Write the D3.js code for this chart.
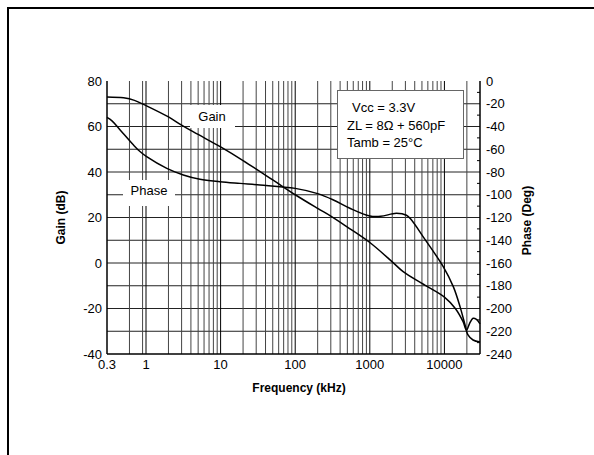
<!DOCTYPE html>
<html lang="en">
<head>
<meta charset="UTF-8">
<title>Gain / Phase vs Frequency</title>
<script src="https://cdn.jsdelivr.net/npm/d3@7"></script>
<style>
  body { margin: 0; background: #fff; }
  text { font-family: "Liberation Sans", Arial, sans-serif; }
</style>
</head>
<body>
<script>
// frequency (kHz) and gain (dB)
var gainFreq = [0.3, 0.5, 0.7, 1, 2, 3, 5, 10, 20, 50, 100, 200, 300, 500, 1000, 2000, 2800, 5000, 10000, 14000, 17800, 19800, 21800, 24200, 26900, 30000];
var gainDb   = [73, 72.6, 71.5, 69.2, 64.2, 60.6, 56.5, 51, 45, 36.5, 30, 24, 20.6, 15.8, 9, 0.5, -3.8, -9, -15, -20, -25.8, -29.5, -26.5, -24.3, -24.8, -26.8];

// frequency (kHz) and phase (deg)
var phaseFreq = [0.3, 0.35, 0.45, 0.68, 0.83, 1.02, 1.9, 3.16, 5.3, 9.8, 18.2, 33.7, 100, 200, 325, 540, 1000, 1400, 2270, 3100, 3600, 5200, 9600, 13200, 16300, 19000, 20600, 24200, 30000];
var phaseDeg  = [-32, -35, -43, -56.3, -62, -66.5, -76.8, -82.6, -86.4, -88.5, -90, -91.4, -94.4, -99, -104.6, -111.9, -118.7, -119, -116.3, -118, -122, -137, -163, -181, -199, -215, -223, -227.7, -229.5];

// tick labels
var freqTicks  = [0.3, 1, 10, 100, 1000, 10000];
var gainTicks  = [80, 60, 40, 20, 0, -20, -40];
var phaseTicks = [0, -20, -40, -60, -80, -100, -120, -140, -160, -180, -200, -220, -240];

var W = 594, H = 455;
var pad = {left: 107, top: 81, right: 114, bottom: 101};
var pw = W - pad.left - pad.right, ph = H - pad.top - pad.bottom;

var svg = d3.select("body").append("svg").attr("width", W).attr("height", H);
svg.append("rect").attr("width", W).attr("height", H).attr("fill", "#fff");

// outer frame (only left and top edges are in view)
svg.append("path").attr("d", "M8," + H + "V8H" + W).attr("fill", "none").attr("stroke", "#000").attr("stroke-width", 2);

var x = d3.scaleLog().domain([0.3, 30000]).range([pad.left, pad.left + pw]);
var yG = d3.scaleLinear().domain([-40, 80]).range([pad.top + ph, pad.top]);
var yP = d3.scaleLinear().domain([-240, 0]).range([pad.top + ph, pad.top]);

// grid
var hGrid = d3.range(-30, 80, 10);
svg.append("g").selectAll("line").data(hGrid).enter().append("line")
    .attr("x1", pad.left).attr("x2", pad.left + pw)
    .attr("y1", function (d) { return yG(d); }).attr("y2", function (d) { return yG(d); })
    .attr("stroke", "#222").attr("stroke-width", 1);

var vGrid = [0.6, 0.9];
for (var k = 0; k <= 4; k++) {
    for (var m = 1; m <= 9; m++) {
        var v = m * Math.pow(10, k);
        if (v < 30000) vGrid.push(v);
    }
}
svg.append("g").selectAll("line").data(vGrid).enter().append("line")
    .attr("x1", function (d) { return x(d); }).attr("x2", function (d) { return x(d); })
    .attr("y1", pad.top).attr("y2", pad.top + ph)
    .attr("stroke", function (d) { return freqTicks.indexOf(d) >= 0 ? "#000" : "#444"; })
    .attr("stroke-width", 1);

// white label boxes on the grid
svg.append("rect").attr("x", 190).attr("y", 105).attr("width", 45).attr("height", 23).attr("fill", "#fff");
svg.append("rect").attr("x", 123).attr("y", 180).attr("width", 52).attr("height", 26).attr("fill", "#fff");
svg.append("text").attr("x", 212).attr("y", 121).attr("text-anchor", "middle").attr("font-size", "13px").text("Gain");
svg.append("text").attr("x", 149).attr("y", 195).attr("text-anchor", "middle").attr("font-size", "13px").text("Phase");

// axes lines
svg.append("line").attr("x1", pad.left).attr("x2", pad.left).attr("y1", pad.top).attr("y2", pad.top + ph)
    .attr("stroke", "#000").attr("stroke-width", 1.5);
svg.append("line").attr("x1", pad.left).attr("x2", pad.left + pw).attr("y1", pad.top + ph).attr("y2", pad.top + ph)
    .attr("stroke", "#000").attr("stroke-width", 1.5);
svg.append("line").attr("x1", pad.left + pw).attr("x2", pad.left + pw).attr("y1", pad.top).attr("y2", pad.top + ph)
    .attr("stroke", "#000").attr("stroke-width", 1.5);

// minor ticks on the phase axis
svg.append("g").selectAll("line").data(d3.range(-230, 0, 20)).enter().append("line")
    .attr("x1", pad.left + pw - 3).attr("x2", pad.left + pw)
    .attr("y1", function (d) { return yP(d); }).attr("y2", function (d) { return yP(d); })
    .attr("stroke", "#000").attr("stroke-width", 1);

// tick labels
svg.append("g").selectAll("text").data(gainTicks).enter().append("text")
    .attr("x", pad.left - 5).attr("y", function (d) { return yG(d) + 4.5; })
    .attr("text-anchor", "end").attr("font-size", "13px").text(function (d) { return d; });
svg.append("g").selectAll("text").data(phaseTicks).enter().append("text")
    .attr("x", pad.left + pw + 6).attr("y", function (d) { return yP(d) + 4.5; })
    .attr("text-anchor", "start").attr("font-size", "13px").text(function (d) { return d; });
svg.append("g").selectAll("text").data(freqTicks).enter().append("text")
    .attr("x", function (d) { return x(d); }).attr("y", pad.top + ph + 15)
    .attr("text-anchor", "middle").attr("font-size", "13px").text(function (d) { return d; });

// axis titles
svg.append("text").attr("transform", "translate(65," + (pad.top + ph / 2) + ") rotate(-90)")
    .attr("text-anchor", "middle").attr("font-size", "12px").attr("font-weight", "bold").text("Gain (dB)");
svg.append("text").attr("transform", "translate(531," + (pad.top + ph / 2 + 3) + ") rotate(-90)")
    .attr("text-anchor", "middle").attr("font-size", "12px").attr("font-weight", "bold").text("Phase (Deg)");
svg.append("text").attr("x", 299).attr("y", 392)
    .attr("text-anchor", "middle").attr("font-size", "12px").attr("font-weight", "bold").text("Frequency (kHz)");

// curves
var gainLine = d3.line().x(function (d) { return x(d[0]); }).y(function (d) { return yG(d[1]); }).curve(d3.curveCatmullRom.alpha(0.5));
var phaseLine = d3.line().x(function (d) { return x(d[0]); }).y(function (d) { return yP(d[1]); }).curve(d3.curveCatmullRom.alpha(0.5));

svg.append("path").datum(d3.zip(gainFreq, gainDb)).attr("d", gainLine)
    .attr("fill", "none").attr("stroke", "#000").attr("stroke-width", 1.5);
svg.append("path").datum(d3.zip(phaseFreq, phaseDeg)).attr("d", phaseLine)
    .attr("fill", "none").attr("stroke", "#000").attr("stroke-width", 1.5);

// conditions box
svg.append("rect").attr("x", 337.5).attr("y", 90.5).attr("width", 126).attr("height", 68)
    .attr("fill", "#fff").attr("stroke", "#666").attr("stroke-width", 1);
var info = ["Vcc = 3.3V", "ZL = 8\u03A9 + 560pF", "Tamb = 25\u00B0C"];
svg.append("g").selectAll("text").data(info).enter().append("text")
    .attr("x", function (d, i) { return i === 0 ? 352 : 347; })
    .attr("y", function (d, i) { return 112 + i * 17.5; })
    .attr("font-size", "13px").text(function (d) { return d; });
</script>
</body>
</html>
